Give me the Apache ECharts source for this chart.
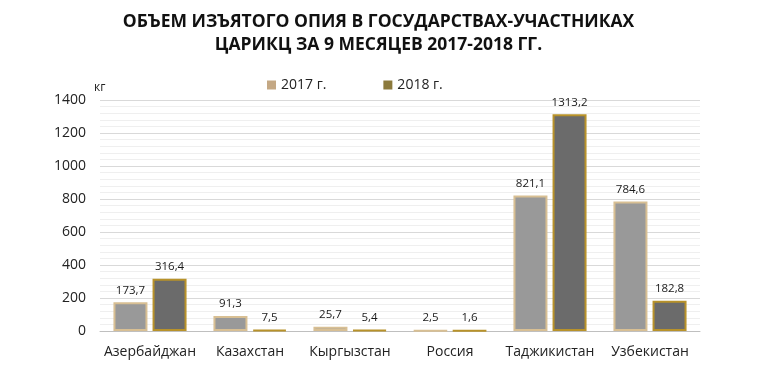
<!DOCTYPE html>
<html><head><meta charset="utf-8">
<script src="https://cdn.jsdelivr.net/npm/echarts@6/dist/echarts.min.js"></script>
<style>html,body{margin:0;padding:0;background:#fff}#c{width:757px;height:368px}</style>
</head><body><div id="c"></div>
<script>
const categories = ['Азербайджан','Казахстан','Кыргызстан','Россия','Таджикистан','Узбекистан'];
const values2017 = [173.7, 91.3, 25.7, 2.5, 821.1, 784.6];
const values2018 = [316.4, 7.5, 5.4, 1.6, 1313.2, 182.8];
const seriesNames = ['2017 г.', '2018 г.'];
const titleLines = ['ОБЪЕМ ИЗЪЯТОГО ОПИЯ В ГОСУДАРСТВАХ-УЧАСТНИКАХ', 'ЦАРИКЦ ЗА 9 МЕСЯЦЕВ 2017-2018 ГГ.'];
const unitLabel = 'кг';
const legendColors = ['#c4a884', '#8c7a3c'];

const fmt = p => String(p.value).replace('.', ',');
const font = '"Open Sans", sans-serif';
const chart = echarts.init(document.getElementById('c'));
chart.setOption({
  animation: false,
  title: {
    text: titleLines.join('\n'),
    left: 'center', top: 6,
    textStyle: {fontFamily: font, fontWeight: 'bold', fontSize: 17.5, color: '#111', lineHeight: 23}
  },
  legend: {
    top: 73, left: 262, itemGap: 57, itemWidth: 9, itemHeight: 9, icon: 'rect',
    textStyle: {fontFamily: font, fontSize: 14, color: '#222'},
    data: seriesNames.map((n, i) => ({name: n, itemStyle: {color: legendColors[i], borderWidth: 0}}))
  },
  grid: {left: 100, right: 57, top: 100, bottom: 37},
  xAxis: {
    type: 'category', data: categories,
    axisLine: {lineStyle: {color: '#bfbfbf'}}, axisTick: {show: false},
    axisLabel: {fontFamily: font, fontSize: 14, color: '#222', margin: 14, interval: 0}
  },
  yAxis: {
    type: 'value', min: 0, max: 1400, interval: 200,
    name: unitLabel, nameLocation: 'end', nameGap: 6,
    nameTextStyle: {fontFamily: font, fontSize: 12, color: '#222', align: 'left', padding: [0,0,0,-6]},
    axisLine: {show: false}, axisTick: {show: false},
    axisLabel: {fontFamily: font, fontSize: 14, color: '#222', margin: 14, formatter: v => String(v)},
    splitLine: {lineStyle: {color: '#d9d9d9'}},
    minorTick: {show: false, splitNumber: 5},
    minorSplitLine: {show: true, lineStyle: {color: '#efefef'}}
  },
  series: [
    {
      name: seriesNames[0], type: 'bar', data: values2017, barWidth: 34, barGap: '15%',
      itemStyle: {color: '#999999', borderColor: '#d8bf93', borderWidth: 2},
      label: {show: true, position: 'top', formatter: fmt, fontFamily: font, fontSize: 11.5, color: '#1a1a1a', distance: 6}
    },
    {
      name: seriesNames[1], type: 'bar', data: values2018, barWidth: 34,
      itemStyle: {color: '#6b6b6b', borderColor: '#b8922a', borderWidth: 2},
      label: {show: true, position: 'top', formatter: fmt, fontFamily: font, fontSize: 11.5, color: '#1a1a1a', distance: 6}
    }
  ]
});
</script></body></html>
